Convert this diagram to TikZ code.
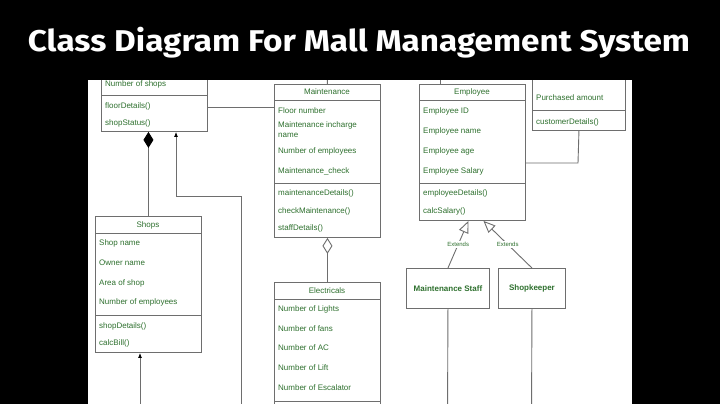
\documentclass[tikz,border=0pt]{standalone}
\usepackage{fontspec}
\setmainfont{Liberation Sans}
\newfontfamily\titlefont{Fira Sans}
\usetikzlibrary{arrows.meta, calc, positioning}

\definecolor{umlgreen}{RGB}{46,112,46}
\definecolor{umlline}{RGB}{110,110,110}

\tikzset{
  classbox/.style={draw=umlline, line width=0.9pt, fill=white, rectangle, inner sep=0pt, anchor=north west},
  attr/.style={anchor=west, inner sep=0pt, text=umlgreen, font=\fontsize{8}{10}\selectfont},
  head/.style={inner sep=0pt, text=umlgreen, font=\fontsize{8}{10}\selectfont},
  plainbox/.style={classbox, text=umlgreen, font=\bfseries\fontsize{8}{10}\selectfont, anchor=north west},
  link/.style={draw=umlline, line width=0.9pt},
  extlabel/.style={fill=white, inner sep=1pt, text=umlgreen, font=\fontsize{6}{7}\selectfont}
}

\begin{document}
\begin{tikzpicture}[x=1pt, y=-1pt]
  \useasboundingbox (0,0) rectangle (720,404);
  \fill[black] (0,0) rectangle (720,404);
  \node[text=white, font=\titlefont\bfseries\fontsize{30}{32}\selectfont] (title) at (359,43) {\scalebox{1.11}[1]{Class Diagram For Mall Management System}};

  \begin{scope}
    \clip (88,80) rectangle (632,404);
    \fill[white] (88,80) rectangle (632,404);

    % Mall (top cut off)
    \node[classbox, minimum width=106pt, minimum height=71pt] (mall) at (101,60) {};
    \node[attr] (mall-a) at (105,84) {Number of shops};
    \draw[link] (mall.west |- 0,95) -- (mall.east |- 0,95);
    \node[attr] (mall-m1) at (105,106) {floorDetails()};
    \node[attr] (mall-m2) at (105,123) {shopStatus()};

    % Maintenance
    \node[classbox, minimum width=106pt, minimum height=153pt] (maint) at (274,84) {};
    \node[head] (maint-h) at (327,92) {Maintenance};
    \draw[link] (maint.west |- 0,100) -- (maint.east |- 0,100);
    \node[attr] (maint-a1) at (278,111) {Floor number};
    \node[attr, align=left] (maint-a2) at (278,130) {Maintenance incharge\\name};
    \node[attr] (maint-a3) at (278,151) {Number of employees};
    \node[attr] (maint-a4) at (278,171) {Maintenance\_check};
    \draw[link] (maint.west |- 0,183) -- (maint.east |- 0,183);
    \node[attr] (maint-m1) at (278,193) {maintenanceDetails()};
    \node[attr] (maint-m2) at (278,211) {checkMaintenance()};
    \node[attr] (maint-m3) at (278,228) {staffDetails()};

    % Electricals (bottom cut off)
    \node[classbox, minimum width=106pt, minimum height=150pt] (elec) at (274,282) {};
    \node[head] (elec-h) at (327,291) {Electricals};
    \draw[link] (elec.west |- 0,299) -- (elec.east |- 0,299);
    \node[attr] (elec-a1) at (278,309) {Number of Lights};
    \node[attr] (elec-a2) at (278,329) {Number of fans};
    \node[attr] (elec-a3) at (278,348) {Number of AC};
    \node[attr] (elec-a4) at (278,368) {Number of Lift};
    \node[attr] (elec-a5) at (278,388) {Number of Escalator};
    \draw[link] (elec.west |- 0,401) -- (elec.east |- 0,401);

    % Employee
    \node[classbox, minimum width=106pt, minimum height=136pt] (emp) at (419,84) {};
    \node[head] (emp-h) at (472,92) {Employee};
    \draw[link] (emp.west |- 0,100) -- (emp.east |- 0,100);
    \node[attr] (emp-a1) at (423,111) {Employee ID};
    \node[attr] (emp-a2) at (423,131) {Employee name};
    \node[attr] (emp-a3) at (423,151) {Employee age};
    \node[attr] (emp-a4) at (423,171) {Employee Salary};
    \draw[link] (emp.west |- 0,183) -- (emp.east |- 0,183);
    \node[attr] (emp-m1) at (423,193) {employeeDetails()};
    \node[attr] (emp-m2) at (423,211) {calcSalary()};

    % Customer (top cut off)
    \node[classbox, minimum width=93pt, minimum height=70pt] (cust) at (532,60) {};
    \node[attr] (cust-a) at (536,98) {Purchased amount};
    \draw[link] (cust.west |- 0,110) -- (cust.east |- 0,110);
    \node[attr] (cust-m) at (536,122) {customerDetails()};

    % Shops
    \node[classbox, minimum width=106pt, minimum height=136pt] (shops) at (95,216) {};
    \node[head] (shops-h) at (148,225) {Shops};
    \draw[link] (shops.west |- 0,233) -- (shops.east |- 0,233);
    \node[attr] (shops-a1) at (99,243) {Shop name};
    \node[attr] (shops-a2) at (99,263) {Owner name};
    \node[attr] (shops-a3) at (99,283) {Area of shop};
    \node[attr] (shops-a4) at (99,302) {Number of employees};
    \draw[link] (shops.west |- 0,315) -- (shops.east |- 0,315);
    \node[attr] (shops-m1) at (99,326) {shopDetails()};
    \node[attr] (shops-m2) at (99,343) {calcBill()};

    % Staff classes
    \node[plainbox, minimum width=83pt, minimum height=40pt] (mstaff) at (406,268) {Maintenance Staff};
    \node[plainbox, minimum width=67pt, minimum height=40pt] (keeper) at (498,268) {Shopkeeper};

    % connectors
    \coordinate (mallmaint) at (207,107);
    \draw[link] (mallmaint) -- (mallmaint -| maint.west);
    \draw[link, -{Diamond[fill=black, color=black, length=16pt, width=10pt]}] (shops.north) -- (shops.north |- mall.south);
    \coordinate (mallin) at (241,420);
    \coordinate (mallbend) at (176,196);
    \draw[link, -{Latex[color=black, length=5pt, width=4pt]}] (mallin) |- (mallbend) -- (mallbend |- mall.south);
    \coordinate (shopsin) at (140,420);
    \draw[link, -{Latex[color=black, length=5pt, width=4pt]}] (shopsin) -- (shopsin |- shops.south);

    \coordinate (maintup) at (327,70);
    \draw[link] (maint.north) -- (maintup);
    \draw[link, -{Diamond[open, fill=white, length=16pt, width=10pt]}] (elec.north) -- (maint.south);

    \coordinate (empup) at (440,70);
    \draw[link] (empup) -- (empup |- emp.north);
    \coordinate (custemp) at (578,163);
    \draw[link] (cust.south) -- (custemp) -- (custemp -| emp.east);

    \draw[link, -{Triangle[open, fill=white, length=12pt, width=10pt]}] (mstaff.north) -- ($(emp.south)+(-4,0)$) node[extlabel, pos=0.5] (ext1) {Extends};
    \draw[link, -{Triangle[open, fill=white, length=12pt, width=10pt]}] (keeper.north) -- ($(emp.south)+(11,0)$) node[extlabel, pos=0.5] (ext2) {Extends};

    \coordinate (mstaffdown) at (447.5,420);
    \draw[link] (mstaff.south) -- (mstaffdown);
    \coordinate (keeperdown) at (531.5,420);
    \draw[link] (keeper.south) -- (keeperdown);
  \end{scope}
\end{tikzpicture}
\end{document}
